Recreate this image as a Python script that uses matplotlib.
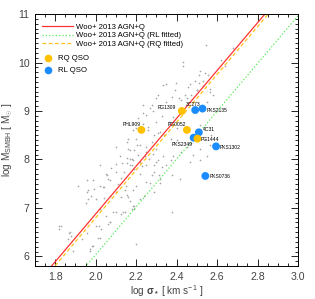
import matplotlib
matplotlib.use("Agg")
import matplotlib.pyplot as plt
import numpy as np
from matplotlib.lines import Line2D
from matplotlib.ticker import MultipleLocator

plt.rcParams['font.family'] = ['Liberation Sans', 'DejaVu Sans']
plt.rcParams['mathtext.fontset'] = 'custom'
plt.rcParams['mathtext.rm'] = 'Liberation Sans'
plt.rcParams['mathtext.it'] = 'Liberation Sans:italic'
plt.rcParams['mathtext.bf'] = 'Liberation Sans:bold'

# Background sample (gray crosses): log sigma, log M
bg_sigma = [2.545, 2.43, 2.466, 2.512, 2.334, 2.39, 2.44, 2.50, 2.53, 2.565, 2.58,
            2.30, 2.35, 2.375, 2.28, 2.32, 2.235, 2.38, 2.415, 2.36, 2.30, 2.26,
            2.32, 2.34, 2.37, 2.40, 2.28, 2.22, 2.19, 2.25, 2.30, 2.335, 2.38,
            2.42, 2.45, 2.48, 2.515, 2.55, 2.17, 2.22, 2.10, 2.14, 2.19, 2.25,
            2.29, 2.30, 2.35, 2.375, 2.415, 2.05, 2.07, 2.02, 1.99, 1.955, 1.96,
            2.00, 2.07, 2.10, 2.15, 2.20, 2.25, 2.29, 2.32, 2.22, 2.19, 2.10,
            2.05, 2.02, 2.07, 2.00, 1.955, 1.93, 1.87, 1.865, 1.82, 1.82, 1.89,
            1.97, 2.01, 2.20, 2.145, 1.95, 1.98, 1.955, 1.915, 2.12, 2.02, 2.16,
            2.20, 2.16, 2.29, 2.33, 2.45, 2.42, 2.55, 2.54, 2.57, 2.47, 2.466,
            2.515, 2.565, 2.515, 2.44, 2.40, 2.235, 2.20, 2.155, 2.10, 2.10,
            2.375, 2.132, 2.153, 2.178, 2.18, 2.077, 2.054, 2.06, 1.988, 1.964,
            2.038, 1.977, 2.112, 2.145, 2.16, 2.183, 2.178, 2.137, 2.088, 2.063,
            2.017, 1.829, 1.873, 1.878, 1.972, 1.988, 2.02, 2.43, 2.397, 2.347,
            2.31, 2.232, 2.267, 2.284, 2.25, 2.21, 2.186, 2.26, 2.31, 2.203,
            2.25, 2.17, 2.21, 2.243, 2.284, 2.153, 2.186, 2.31, 2.37, 2.227,
            2.29, 2.47, 2.50, 2.51, 2.54, 2.516, 2.49, 2.532, 2.458, 2.555,
            2.563, 2.62, 2.64, 2.68, 2.41, 2.17, 2.265, 2.218, 2.124, 2.04,
            2.04, 2.124, 2.153, 2.17, 2.183, 2.267, 2.317, 2.314, 2.276, 2.237,
            2.19, 2.072, 2.025, 2.125, 2.33]
bg_mass = [10.36, 9.93, 9.55, 9.74, 9.53, 9.43, 9.34, 9.43, 9.52, 9.46, 9.33,
           9.26, 9.19, 9.28, 9.13, 9.06, 8.96, 8.88, 8.95, 8.78, 8.77, 8.66,
           8.57, 8.50, 8.43, 8.40, 8.36, 8.29, 8.19, 8.15, 8.22, 8.08, 8.08,
           8.15, 8.26, 8.10, 8.22, 8.08, 8.02, 7.95, 7.91, 7.74, 7.81, 7.88,
           7.74, 7.95, 7.88, 7.67, 7.60, 7.70, 7.57, 7.46, 7.39, 7.57, 7.18,
           7.18, 7.25, 7.32, 7.46, 7.46, 7.53, 7.32, 7.60, 7.18, 7.05, 6.91,
           6.84, 6.98, 6.70, 6.63, 6.49, 6.35, 6.49, 6.35, 6.63, 6.56, 6.11,
           6.11, 6.39, 6.25, 6.91, 7.11, 6.21, 7.32, 7.46, 8.08, 7.88, 8.22,
           8.43, 8.43, 8.50, 8.90, 9.26, 9.23, 9.19, 8.43, 8.50, 8.33, 7.95,
           7.98, 8.29, 8.71, 8.68, 8.64, 8.74, 8.64, 8.36, 8.26, 7.74,
           6.92, 7.93, 7.93, 8.02, 7.89, 7.82, 7.68, 7.59, 7.57, 7.36,
           7.44, 7.25, 7.50, 7.36, 7.22, 7.36, 6.98, 6.91, 6.91, 6.67,
           6.63, 6.62, 6.50, 6.42, 6.15, 6.21, 6.39, 10.01, 9.58, 9.56,
           9.33, 9.12, 9.07, 9.00, 8.92, 8.86, 8.60, 8.60, 8.54, 8.29,
           8.26, 8.19, 8.10, 8.07, 8.12, 8.03, 7.98, 7.98, 7.98, 7.86,
           7.89, 9.33, 9.44, 9.58, 9.78, 9.83, 9.62, 9.61, 9.49, 9.75,
           9.40, 10.06, 9.92, 10.30, 9.26, 7.88, 8.02, 7.70, 7.62, 7.43,
           7.20, 7.22, 7.27, 7.15, 7.05, 7.52, 7.52, 7.67, 7.67, 7.25,
           6.98, 6.71, 6.56, 6.87, 7.84]

# Radio-quiet QSOs
rq_names = ["PHL909", "PG1309", "PG0052", "PG1444"]
rq_sigma = [2.226, 2.426, 2.451, 2.503]
rq_mass = [8.61, 9.00, 8.61, 8.43]

# Radio-loud QSOs
rl_names = ["3C273", "PKS2135", "4C31", "PKS2349", "PKS1302", "PKS0736"]
rl_sigma = [2.492, 2.528, 2.510, 2.484, 2.595, 2.542]
rl_mass = [9.02, 9.05, 8.56, 8.45, 8.27, 7.66]

# Woo+2013 relations: log M = alpha + beta * log(sigma/200)
beta = 4.93
alpha_all = 8.36
alpha_rl = 7.52
alpha_rq = 8.28
log200 = np.log10(200.0)

fig = plt.figure(figsize=(3.15, 2.99), dpi=100)
ax = fig.add_axes([0.111, 0.110, 0.835, 0.843])

ax.plot(bg_sigma, bg_mass, '+', color='#a6a6a6', ms=2.0, mew=0.45, zorder=1)

xs = np.linspace(1.7, 3.0, 200)
ax.plot(xs, alpha_all + beta * (xs - log200), '-', color='#ff3333', lw=0.9, zorder=2)
ax.plot(xs, alpha_rl + beta * (xs - log200), ':', color='#55ee55', lw=0.9, zorder=2)
ax.plot(xs, alpha_rq + beta * (xs - log200), '--', color='#ffc21a', lw=0.9,
        dashes=(3, 2), zorder=2)

ax.scatter(rq_sigma, rq_mass, s=32, color='#ffc000', edgecolors='none', zorder=4)
ax.scatter(rl_sigma, rl_mass, s=32, color='#1a8cff', edgecolors='none', zorder=3)

lbl_off = {
    "PHL909": (-0.005, 0.12, 'right'),
    "PG1309": (-0.03, 0.08, 'right'),
    "PG0052": (-0.005, 0.12, 'right'),
    "PG1444": (0.018, -0.02, 'left'),
    "3C273": (-0.01, 0.12, 'center'),
    "PKS2135": (0.02, -0.03, 'left'),
    "4C31": (0.018, 0.05, 'left'),
    "PKS2349": (-0.005, -0.14, 'right'),
    "PKS1302": (0.02, -0.03, 'left'),
    "PKS0736": (0.02, -0.02, 'left'),
}
for names, xv, yv in ((rq_names, rq_sigma, rq_mass), (rl_names, rl_sigma, rl_mass)):
    for n, x, y in zip(names, xv, yv):
        dx, dy, ha = lbl_off[n]
        ax.text(x + dx, y + dy, n, fontsize=3.6, ha=ha, va='center', color='black', zorder=5)

ax.set_xlim(1.7, 3.0)
ax.set_ylim(5.8, 11.0)
ax.xaxis.set_major_locator(MultipleLocator(0.2))
ax.xaxis.set_minor_locator(MultipleLocator(0.05))
ax.yaxis.set_major_locator(MultipleLocator(1))
ax.yaxis.set_minor_locator(MultipleLocator(0.1))
ax.tick_params(which='both', direction='in', top=True, right=True, width=0.6,
               labelsize=7.6, labelcolor='#444444', pad=4)
ax.tick_params(which='major', length=5)
ax.tick_params(which='minor', length=2.5)
for sp in ax.spines.values():
    sp.set_linewidth(0.7)

ax.set_xlabel(r'log $\mathbf{\sigma_*}$ [ km s$^{-1}$ ]', fontsize=7.2, color='#444444', labelpad=1)
ax.set_ylabel(r'log M$_{\rm SMBH}$ [ M$_{\odot}$ ]', fontsize=7.2, color='#444444', labelpad=2)

line_handles = [
    Line2D([], [], color='#ff3333', lw=0.9, ls='-'),
    Line2D([], [], color='#55ee55', lw=0.9, ls=':'),
    Line2D([], [], color='#ffc21a', lw=0.9, ls='--', dashes=(3, 2)),
]
leg1 = ax.legend(line_handles,
                 ['Woo+ 2013 AGN+Q', 'Woo+ 2013 AGN+Q (RL fitted)', 'Woo+ 2013 AGN+Q (RQ fitted)'],
                 loc='upper left', bbox_to_anchor=(0.022, 0.970), frameon=False,
                 prop={'size': 5.6}, handlelength=4.0, handletextpad=0.35, labelspacing=0.15,
                 borderaxespad=0.0, borderpad=0.2)
ax.add_artist(leg1)
marker_handles = [
    Line2D([], [], color='#ffc000', marker='o', ls='none', ms=5.5, mec='none'),
    Line2D([], [], color='#1a8cff', marker='o', ls='none', ms=5.5, mec='none'),
]
ax.legend(marker_handles, ['RQ QSO', 'RL QSO'], loc='upper left',
          bbox_to_anchor=(0.03, 0.844), frameon=False, prop={'size': 5.6},
          handlelength=1.0, handletextpad=0.8, labelspacing=0.58,
          borderaxespad=0.0, borderpad=0.2)

fig.savefig('out.png', dpi=100)
